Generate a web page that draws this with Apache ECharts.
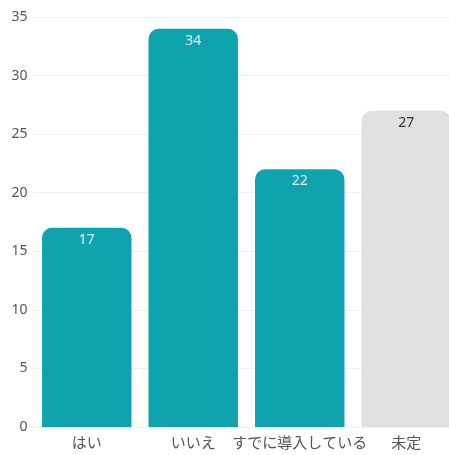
<!DOCTYPE html>
<html><head><meta charset="utf-8">
<script src="https://cdn.jsdelivr.net/npm/echarts@6/dist/echarts.min.js"></script>
<style>html,body{margin:0;padding:0;background:#fff;overflow:hidden;width:449px;height:455px}#c{width:460px;height:455px}</style>
</head><body><div id="c"></div>
<script>
const categories = ['はい', 'いいえ', 'すでに導入している', '未定'];
const values = [17, 34, 22, 27];
const barColors = ['#0fa3ae', '#0fa3ae', '#0fa3ae', '#e0e0e0'];
const labelColors = ['#d6f4f6', '#d6f4f6', '#d6f4f6', '#333333'];
const yTicks = [0, 5, 10, 15, 20, 25, 30, 35];

const chart = echarts.init(document.getElementById('c'));
chart.setOption({
  animation: false,
  grid: { left: 33.5, top: 17, bottom: 28, right: 0.5, containLabel: false },
  xAxis: {
    type: 'category', data: categories,
    axisLine: { show: false }, axisTick: { show: false },
    axisLabel: { color: '#555', fontSize: 15, margin: 8, interval: 0,
      fontFamily: '"Noto Sans CJK JP", "Noto Sans", sans-serif' }
  },
  yAxis: {
    type: 'value', min: yTicks[0], max: yTicks[yTicks.length - 1], interval: 5,
    axisLine: { show: false }, axisTick: { show: false },
    axisLabel: { color: '#555', fontSize: 14, margin: 6, fontFamily: '"Noto Sans", sans-serif' },
    splitLine: { lineStyle: { color: '#eeeeee', width: 1 } }
  },
  series: [{
    type: 'bar', barCategoryGap: '16%',
    data: values.map((v, i) => ({
      value: v,
      itemStyle: { color: barColors[i], borderRadius: [10, 10, 0, 0] },
      label: { color: labelColors[i] }
    })),
    label: { show: true, position: 'insideTop', distance: 5, fontSize: 14,
      fontFamily: '"Noto Sans", sans-serif' }
  }]
});
</script></body></html>
